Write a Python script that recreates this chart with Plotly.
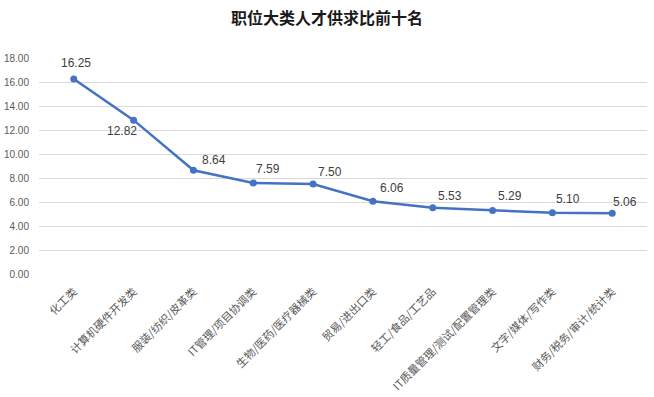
import plotly.graph_objects as go

categories = ["化工类", "计算机硬件开发类", "服装/纺织/皮革类", "IT管理/项目协调类",
              "生物/医药/医疗器械类", "贸易/进出口类", "轻工/食品/工艺品",
              "IT质量管理/测试/配置管理类", "文字/媒体/写作类", "财务/税务/审计/统计类"]
values = [16.25, 12.82, 8.64, 7.59, 7.50, 6.06, 5.53, 5.29, 5.10, 5.06]
y_ticks = [0, 2, 4, 6, 8, 10, 12, 14, 16, 18]
label_dx = [2, -12, 21, 15, 17, 19, 17, 17, 16, 13]
label_dy = [-16, 11, -10, -14, -12, -13, -12, -15, -14, -11]

fig = go.Figure()
fig.add_trace(go.Scatter(
    x=categories, y=values, mode="lines+markers",
    line=dict(color="#4472C4", width=2.5),
    marker=dict(size=7, color="#4472C4"),
    hoverinfo="skip",
))
for c, v, dx, dy in zip(categories, values, label_dx, label_dy):
    fig.add_annotation(x=c, y=v, text=f"{v:.2f}", showarrow=False,
                       xshift=dx, yshift=-dy,
                       font=dict(family="Liberation Sans, Noto Sans", size=12, color="#404040"))

fig.update_layout(
    width=654, height=397,
    margin=dict(l=39, r=7, t=58, b=123),
    paper_bgcolor="white", plot_bgcolor="white",
    showlegend=False,
    title=dict(text="<b>职位大类人才供求比前十名</b>", x=0.5, xanchor="center",
               y=1 - 18 / 397, yanchor="middle",
               font=dict(family="Noto Sans CJK SC", size=16, color="#1a1a1a")),
    font=dict(family="Noto Sans CJK SC"),
)
fig.update_xaxes(tickangle=-45, showgrid=False, showline=False, zeroline=False,
                 automargin=False,
                 tickfont=dict(family="Noto Sans CJK SC", size=11, color="#595959"),
                 ticks="", ticklabelstandoff=8)
fig.update_yaxes(range=[0, 18], tickvals=y_ticks, ticktext=[f"{t:.2f}" for t in y_ticks],
                 showgrid=True, gridcolor="#D9D9D9", gridwidth=1, zeroline=False,
                 automargin=False,
                 showline=False, ticks="", ticklabelstandoff=9,
                 tickfont=dict(family="Liberation Sans", size=10, color="#595959"))

fig.write_html("out.html", config={"displayModeBar": False},
               post_script="document.body.style.margin='0';")
